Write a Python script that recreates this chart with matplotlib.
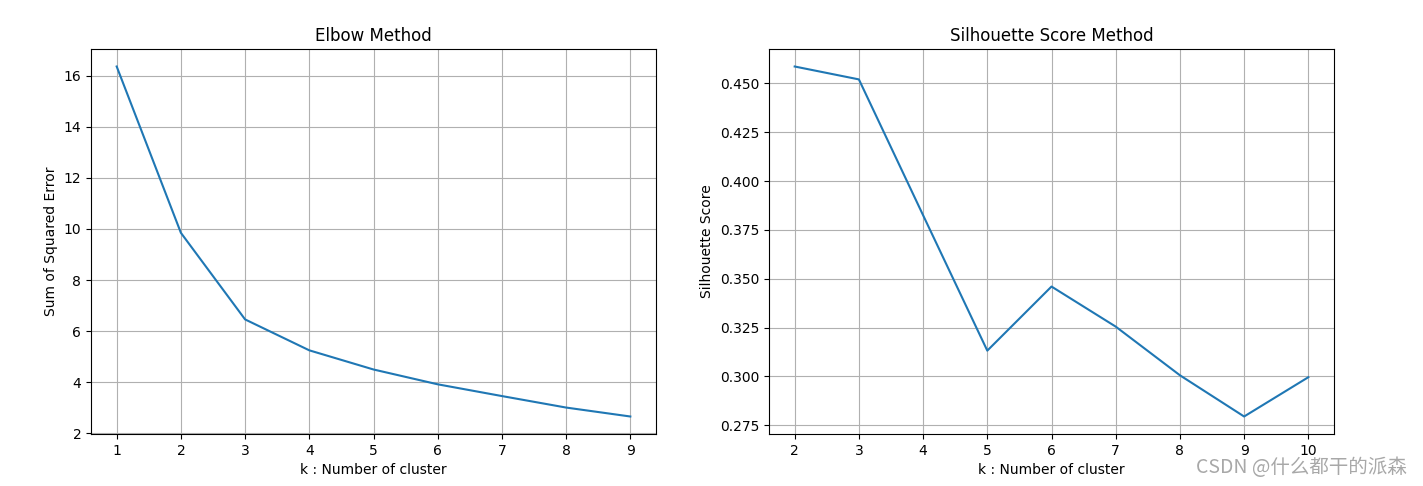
import matplotlib
matplotlib.use("Agg")
import matplotlib.pyplot as plt

k_elbow = [1, 2, 3, 4, 5, 6, 7, 8, 9]
sse = [16.36, 9.85, 6.46, 5.25, 4.50, 3.92, 3.46, 3.01, 2.66]

k_sil = [2, 3, 4, 5, 6, 7, 8, 9, 10]
sil = [0.4586, 0.4520, 0.3825, 0.3132, 0.3460, 0.3255, 0.3006, 0.2795, 0.2996]

fig = plt.figure(figsize=(14.23, 4.86), dpi=100)
ax1 = fig.add_axes([91/1423, 1-434/486, (656-91)/1423, (434-49)/486])
ax2 = fig.add_axes([769/1423, 1-434/486, (1334-769)/1423, (434-49)/486])

ax1.plot(k_elbow, sse)
ax1.set_title("Elbow Method")
ax1.set_xlabel("k : Number of cluster")
ax1.set_ylabel("Sum of Squared Error")
ax1.set_xticks(k_elbow)
ax1.grid(True)

ax2.plot(k_sil, sil)
ax2.set_title("Silhouette Score Method")
ax2.set_xlabel("k : Number of cluster")
ax2.set_ylabel("Silhouette Score")
ax2.set_xticks(k_sil)
ax2.grid(True)

fig.text(1407/1423, 1-467/486, "CSDN @什么都干的派森", ha="right", va="center",
         fontsize=14, color="#a8a8a8",
         family=["Noto Sans CJK SC", "DejaVu Sans"])

fig.savefig("out.png", dpi=100)
